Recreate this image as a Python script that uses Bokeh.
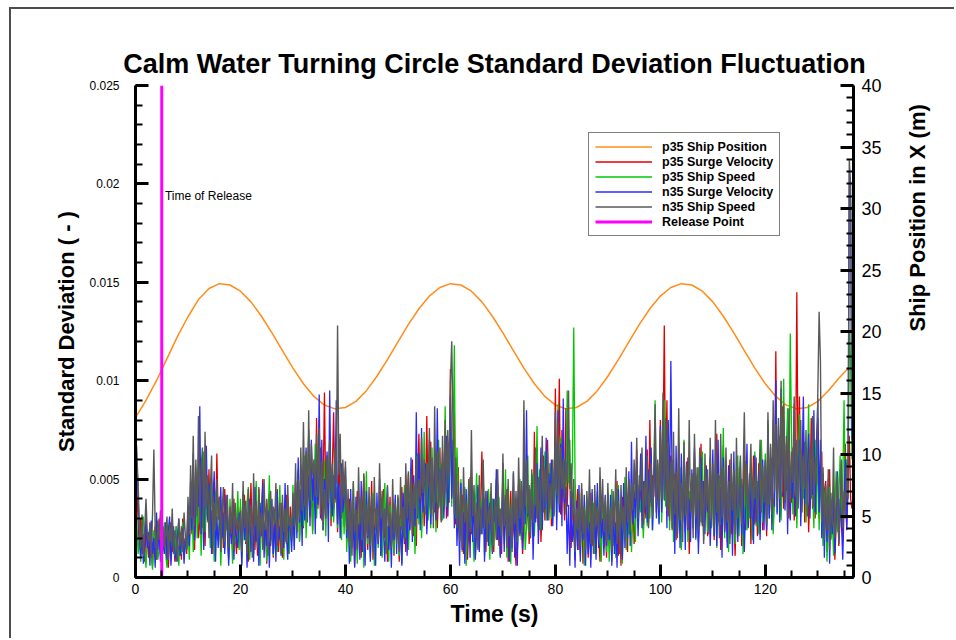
import math
import numpy as np
from bokeh.plotting import figure
from bokeh.models import (Range1d, LinearAxis, SingleIntervalTicker,
                          CustomJSTickFormatter)
from bokeh.core.properties import value
from bokeh.embed import file_html
from bokeh.resources import INLINE

FONT = "Liberation Sans"

# ---------------- data ----------------
sample_step = 0.25   # s between samples

# standard deviations in units of 1e-4
p35_surge = [
 60,45,28,15,30,12,22,8,25,18, 10,28,14,6,20,26,9,16,30,12, 7,22,15,24,10,5,19,28,13,21, 8,26,17,11,23,9,30,14,20,12,
 31,18,40,22,46,14,35,52,20,28, 61,25,38,16,44,30,55,21,34,12, 48,26,63,30,41,19,36,15,45,24, 38,9,27,33,14,40,22,12,35,18,
 36,10,29,42,17,33,8,25,48,19, 37,14,30,11,45,21,33,50,16,28, 7,37,43,16,28,10,35,22,45,13, 26,38,10,31,18,42,24,12,36,20,
 39,22,48,30,54,19,40,47,25,60, 28,52,72,31,45,24,58,36,81,35, 50,66,29,44,94,40,62,30,70,26, 55,84,38,46,23,60,42,30,51,26,
 51,18,33,40,12,30,34,6,25,44, 19,29,10,36,52,23,31,14,40,26, 49,9,22,35,31,17,41,11,28,45, 20,33,8,24,41,15,30,11,37,19,
 35,8,28,46,20,30,13,39,53,24, 35,60,21,42,16,48,73,30,44,55, 26,40,82,34,52,69,38,47,33,58, 25,44,66,29,51,38,70,30,45,38,
 106,41,62,84,27,50,56,19,38,42, 12,30,38,9,25,51,22,36,33,10, 28,46,18,34,64,25,40,13,31,44, 17,26,40,13,35,20,48,16,30,12,
 58,20,36,45,8,27,44,15,31,19, 6,34,48,21,39,12,28,56,24,42, 17,33,50,24,74,30,46,26,52,18, 38,62,29,44,70,33,58,26,48,40,
 96,38,55,101,32,75,48,29,86,36, 60,54,15,40,28,9,32,45,14,26, 45,7,28,18,37,10,30,43,16,24, 39,12,33,21,8,29,37,15,27,10,
 43,16,29,8,38,24,19,49,11,33, 6,41,26,20,30,13,50,22,37,44, 17,29,65,28,47,35,58,24,42,30, 65,28,80,36,52,41,70,33,58,35,
 80,35,62,128,46,90,31,55,62,24, 44,53,19,40,68,27,47,36,59,23, 41,61,12,35,47,25,61,30,52,18, 42,68,26,45,33,57,21,39,61,26,
 52,19,43,73,28,46,14,38,67,25, 50,18,36,60,22,43,29,11,40,56, 29,48,16,33,66,24,42,30,53,17, 39,62,27,48,21,58,35,66,24,41,
 53,21,78,32,50,61,27,45,115,39, 70,31,56,87,35,60,44,75,30,52, 38,66,29,48,145,48,92,36,61,74, 28,50,60,23,44,81,35,55,30,70,
 81,30,58,64,22,44,49,13,36,55, 20,34,36,9,28,42,16,30,52,18, 41,68,25,46,72,40,35]

p35_speed = [
 40,28,12,20,8,25,31,13,5,22, 18,27,10,4,24,16,30,9,14,21, 7,16,28,12,5,19,24,8,30,15, 11,26,17,6,21,12,28,9,19,14,
 26,9,33,40,13,28,56,20,38,45, 11,30,64,23,42,28,37,15,50,31, 8,43,27,19,34,6,25,30,14,36, 22,10,40,24,7,31,18,26,44,14,
 40,7,25,32,18,38,46,9,20,26, 12,35,49,20,30,6,35,44,15,29, 8,22,52,17,33,11,26,39,13,27, 47,16,28,9,36,22,41,12,30,18,
 47,16,39,23,55,18,33,44,26,62, 20,40,75,33,51,22,44,68,30,47, 80,36,58,24,60,21,48,35,72,30, 52,28,43,66,25,40,33,19,46,22,
 46,13,35,28,8,30,48,16,28,7, 24,40,19,32,5,27,54,17,37,10, 29,43,6,21,29,15,42,24,10,33, 48,14,26,8,37,19,31,12,40,20,
 41,11,30,7,26,47,20,36,14,31, 56,25,42,12,33,63,27,50,20,38, 74,32,58,29,46,25,66,31,52,23, 48,70,36,58,29,45,87,36,60,40,
 87,36,65,118,30,66,45,21,50,13, 36,46,6,30,49,18,31,24,8,37, 53,15,30,40,22,57,11,35,25,45, 9,28,40,16,33,50,20,41,11,29,
 42,17,55,10,34,27,7,39,46,20, 38,13,29,50,19,33,41,14,26,62, 23,45,30,53,21,40,77,32,55,24, 48,36,64,29,50,35,58,30,44,32,
 64,29,88,35,71,38,50,60,32,95, 48,70,36,58,127,50,30,18,35,11, 43,26,6,30,41,15,46,9,27,38, 12,33,44,18,29,8,36,21,39,13,
 39,8,27,45,16,31,10,36,47,20, 34,7,28,51,14,38,22,43,13,30, 46,18,58,25,41,33,49,20,37,55, 26,44,30,62,24,49,90,33,57,28,
 71,28,52,90,36,61,78,24,45,60, 18,36,48,22,38,56,14,32,70,29, 47,18,44,30,53,25,64,19,41,56, 26,45,64,19,38,52,23,40,60,25,
 45,23,60,15,39,52,27,44,76,20, 47,31,13,40,58,26,42,17,35,62, 21,46,50,12,33,59,24,43,30,56, 19,38,64,26,49,22,41,70,28,45,
 63,26,80,30,49,57,22,41,94,33, 60,72,29,48,101,38,65,86,40,124, 71,32,55,65,25,48,83,31,57,40, 69,28,50,88,35,60,45,25,70,32,
 69,24,51,38,16,40,46,8,30,46, 19,32,11,36,54,23,40,62,28,47, 90,38,60,44,125,110,60]

n35_surge = [
 85,60,42,20,10,26,7,18,30,15, 23,6,29,12,20,5,33,14,25,8, 21,17,12,28,9,24,31,6,19,26, 13,8,22,30,11,18,25,7,20,15,
 35,16,49,24,63,19,42,50,36,87, 22,58,14,40,67,29,48,42,12,39, 54,8,31,15,27,46,20,33,12,42, 25,6,30,17,38,9,28,20,15,33,
 27,6,43,19,35,5,24,40,13,26, 8,46,18,31,6,38,21,48,10,29, 16,34,5,27,40,12,30,8,44,19, 26,11,37,15,48,22,9,31,25,13,
 36,14,49,20,61,28,45,16,57,29, 66,34,52,26,70,39,55,22,60,37, 93,30,70,24,50,36,64,18,95,40, 31,52,40,90,27,48,20,58,33,41,
 56,20,38,7,45,15,30,5,41,18, 27,9,49,13,34,6,44,20,31,8, 40,15,26,6,43,17,50,11,39,24, 8,33,46,14,28,5,37,19,42,12,
 40,15,26,6,43,17,50,11,39,24, 61,18,52,26,84,30,63,24,76,33, 46,58,22,40,70,27,52,35,60,29, 86,38,55,41,64,30,49,72,31,50,
 92,40,70,25,53,16,39,6,48,14, 33,7,45,20,36,10,54,18,42,9, 29,47,13,35,22,51,8,31,44,16, 38,25,12,40,28,55,19,34,10,27,
 50,13,37,21,46,8,32,15,53,10, 40,6,48,22,35,14,60,27,85,31, 44,20,52,9,37,28,58,17,40,66, 24,49,35,71,29,53,40,60,26,45,
 72,24,85,33,68,26,91,38,46,12, 37,6,44,18,29,5,39,14,47,8, 33,19,42,6,36,12,28,5,45,17, 31,9,48,15,39,20,30,11,42,16,
 33,19,42,6,36,12,28,5,45,17, 31,9,48,15,39,20,54,16,69,27, 44,30,58,21,40,63,25,49,33,72, 28,55,38,66,24,47,69,30,52,27,
 77,33,72,40,66,25,80,38,110,46, 43,12,67,22,50,15,63,28,46,14, 59,24,40,18,55,30,66,20,45,12, 38,61,27,49,22,56,33,43,16,37,
 65,21,55,16,70,26,46,10,61,23, 44,15,57,20,49,11,64,27,51,18, 40,59,22,47,13,36,68,25,52,30, 45,17,62,28,38,54,19,44,60,24,
 59,24,71,30,66,24,80,36,100,32, 77,28,96,41,80,34,68,22,75,29, 55,40,88,31,62,47,70,26,58,92, 37,64,48,73,30,55,42,85,33,60,
 91,33,70,20,53,10,41,18,50,7, 38,22,46,12,33,54,19,40,28,9, 35,60,24,45,206,190,70]

n35_speed = [
 78,62,48,25,15,32,11,24,40,22, 18,27,10,33,65,25,9,29,19,34, 12,26,15,22,31,9,27,18,35,12, 24,20,8,30,16,26,13,33,21,14,
 41,22,57,30,72,26,60,31,82,28, 55,66,23,74,35,52,20,45,62,16, 38,24,50,29,41,13,34,46,18,30, 42,15,36,22,48,14,38,25,30,24,
 34,13,49,25,39,12,45,22,37,10, 53,26,39,15,46,20,33,14,50,24, 40,11,31,44,19,36,27,48,16,29, 38,12,42,23,35,17,47,26,31,20,
 43,26,58,23,50,30,66,34,79,36, 64,28,85,39,68,52,60,41,73,41, 76,32,59,24,45,30,62,38,70,44, 58,35,66,48,128,52,73,30,60,41,
 59,24,45,16,39,11,49,23,35,14, 56,27,41,19,53,15,37,21,46,16, 42,13,51,24,36,18,58,30,44,20, 35,12,47,26,33,15,50,22,38,17,
 42,13,51,24,36,18,58,30,54,27, 53,22,48,35,62,31,50,40,71,43, 60,38,58,46,76,32,61,25,87,38, 64,35,56,28,72,36,80,43,75,51,
 98,120,76,32,61,25,49,18,44,15, 56,28,39,16,50,23,75,31,47,20, 38,14,52,22,33,60,25,44,18,36, 27,48,13,31,40,19,55,26,35,21,
 63,26,42,15,50,21,37,13,54,27, 44,18,61,30,49,23,90,36,60,32, 47,20,55,28,39,66,30,51,24,45, 72,33,56,38,64,29,48,35,60,31,
 84,42,79,37,66,45,60,40,59,48, 95,45,58,30,50,13,35,24,43,16, 48,22,36,14,44,25,55,17,39,12, 47,26,36,19,56,28,50,23,41,18,
 48,22,36,14,44,25,55,17,39,12, 47,26,36,19,56,28,50,23,48,34, 60,40,71,30,52,44,66,27,49,36, 62,25,45,58,31,50,88,38,60,34,
 75,40,94,39,81,34,69,29,59,25, 74,32,54,20,86,29,48,18,69,31, 58,25,80,33,53,20,73,30,56,24, 66,28,49,17,63,34,55,22,71,30,
 58,25,80,33,53,20,73,30,56,24, 66,28,49,17,63,34,55,22,71,30, 45,62,27,50,84,36,58,29,47,68, 31,52,40,61,26,44,70,33,57,38,
 60,27,84,37,68,32,90,44,78,36, 81,40,100,43,88,39,72,30,86,38, 64,48,92,41,70,35,58,80,33,62, 45,75,31,57,66,40,82,36,61,47,
 94,135,110,28,56,19,47,24,55,14, 43,26,66,20,38,52,17,36,60,25, 44,30,58,40,212,200,80]

# ship position in X (m), read every 2 s
pos_time = list(range(0, 137, 2))
pos_x = [13.0, 14.4, 16.0, 17.8, 19.6, 21.2, 22.6, 23.5, 23.89, 23.78,
         23.28, 22.41, 21.24, 19.89, 18.44, 17.02, 15.75, 14.72, 14.02, 13.71,
         13.82, 14.32, 15.19, 16.36, 17.71, 19.16, 20.58, 21.85, 22.88, 23.58,
         23.89, 23.78, 23.28, 22.41, 21.24, 19.89, 18.44, 17.02, 15.75, 14.72,
         14.02, 13.71, 13.82, 14.32, 15.19, 16.36, 17.71, 19.16, 20.58, 21.85,
         22.88, 23.58, 23.89, 23.78, 23.28, 22.41, 21.24, 19.89, 18.44, 17.02,
         15.75, 14.72, 14.02, 13.71, 13.82, 14.32, 15.19, 16.2, 17.1]

release_time = 5.0
release_label = "Time of Release"

x_max = 136.8
std_max = 0.025
pos_max = 40

title_text = "Calm Water Turning Circle Standard Deviation Fluctuation"

# ---------------- figure ----------------
p = figure(width=945, height=631, output_backend="svg", toolbar_location=None,
           x_range=Range1d(0, x_max), y_range=Range1d(0, std_max),
           min_border_left=124, min_border_right=103,
           min_border_top=76, min_border_bottom=63,
           title=title_text)
p.styles = {"border-top": "2px solid #4d4d4d", "border-left": "2px solid #4d4d4d"}
p.margin = (7, 0, 0, 9)

p.outline_line_color = None
p.xgrid.visible = False
p.ygrid.visible = False
p.background_fill_color = "white"
p.border_fill_color = "white"

p.title.text_font = FONT
p.title.text_font_size = "27px"
p.title.text_font_style = "bold"
p.title.text_color = "black"
p.title.align = "center"
p.title.standoff = 14

p.extra_y_ranges = {"pos": Range1d(0, pos_max)}

def style_axis(ax, label_size):
    ax.axis_line_width = 3
    ax.axis_line_color = "black"
    ax.major_tick_in = 13
    ax.major_tick_out = 0
    ax.minor_tick_in = 7
    ax.minor_tick_out = 0
    ax.major_tick_line_width = 3
    ax.minor_tick_line_width = 2
    ax.major_label_text_font = FONT
    ax.major_label_text_font_size = label_size
    ax.major_label_text_color = "black"
    ax.axis_label_text_font = FONT
    ax.axis_label_text_font_style = "bold"
    ax.axis_label_text_color = "black"

xa = p.xaxis[0]
xa.ticker = SingleIntervalTicker(interval=20, num_minor_ticks=4)
style_axis(xa, "14px")
xa.axis_label = "Time (s)"
xa.axis_label_text_font_size = "23px"
xa.major_label_standoff = 6
xa.axis_label_standoff = 4

ya = p.yaxis[0]
ya.ticker = SingleIntervalTicker(interval=0.005, num_minor_ticks=5)
ya.formatter = CustomJSTickFormatter(code="return String(parseFloat(tick.toFixed(4)));")
style_axis(ya, "12px")
ya.axis_label = "Standard Deviation ( - )"
ya.axis_label_text_font_size = "22px"
ya.major_label_standoff = 16
ya.axis_label_standoff = 7

ra = LinearAxis(y_range_name="pos",
                ticker=SingleIntervalTicker(interval=5, num_minor_ticks=5))
style_axis(ra, "18px")
ra.axis_label = "Ship Position in X (m)"
ra.axis_label_text_font_size = "22px"
ra.major_label_standoff = 8
ra.axis_label_standoff = 33
ra.axis_label_orientation = math.pi / 2
p.add_layout(ra, "right")

# ---------------- glyphs ----------------
def series_time(vals):
    return np.arange(len(vals)) * sample_step

def series_val(vals):
    return np.array(vals) * 1e-4

p.line(pos_time, pos_x, y_range_name="pos", line_color="#ff8c1a",
       line_width=1.5, legend_label="p35 Ship Position")
p.line(series_time(p35_surge), series_val(p35_surge), line_color="#e00000",
       line_width=1.3, legend_label="p35 Surge Velocity")
p.line(series_time(p35_speed), series_val(p35_speed), line_color="#00c800",
       line_width=1.3, legend_label="p35 Ship Speed")
p.line(series_time(n35_surge), series_val(n35_surge), line_color="#2a2aff",
       line_width=1.3, legend_label="n35 Surge Velocity")
p.line(series_time(n35_speed), series_val(n35_speed), line_color="#595959",
       line_width=1.4, legend_label="n35 Ship Speed")
p.segment(x0=[release_time], y0=[0], x1=[release_time], y1=[std_max],
          line_color="#ff00ff", line_width=3, legend_label="Release Point")

p.text(x=[release_time + 0.6], y=[0.0194], text=[release_label],
       text_font=value(FONT), text_font_size="12px", text_baseline="middle",
       text_color="black")

# ---------------- legend ----------------
lg = p.legend[0]
lg.location = (453, 341)
lg.label_text_font = FONT
lg.label_text_font_size = "12.5px"
lg.label_text_font_style = "bold"
lg.label_text_color = "black"
lg.label_height = 15
lg.glyph_height = 15
lg.glyph_width = 57
lg.label_standoff = 10
lg.spacing = 0
lg.padding = 6
lg.margin = 0
lg.border_line_color = "black"
lg.border_line_width = 1
lg.background_fill_alpha = 1.0

open("out.html", "w").write(file_html(p, INLINE))
